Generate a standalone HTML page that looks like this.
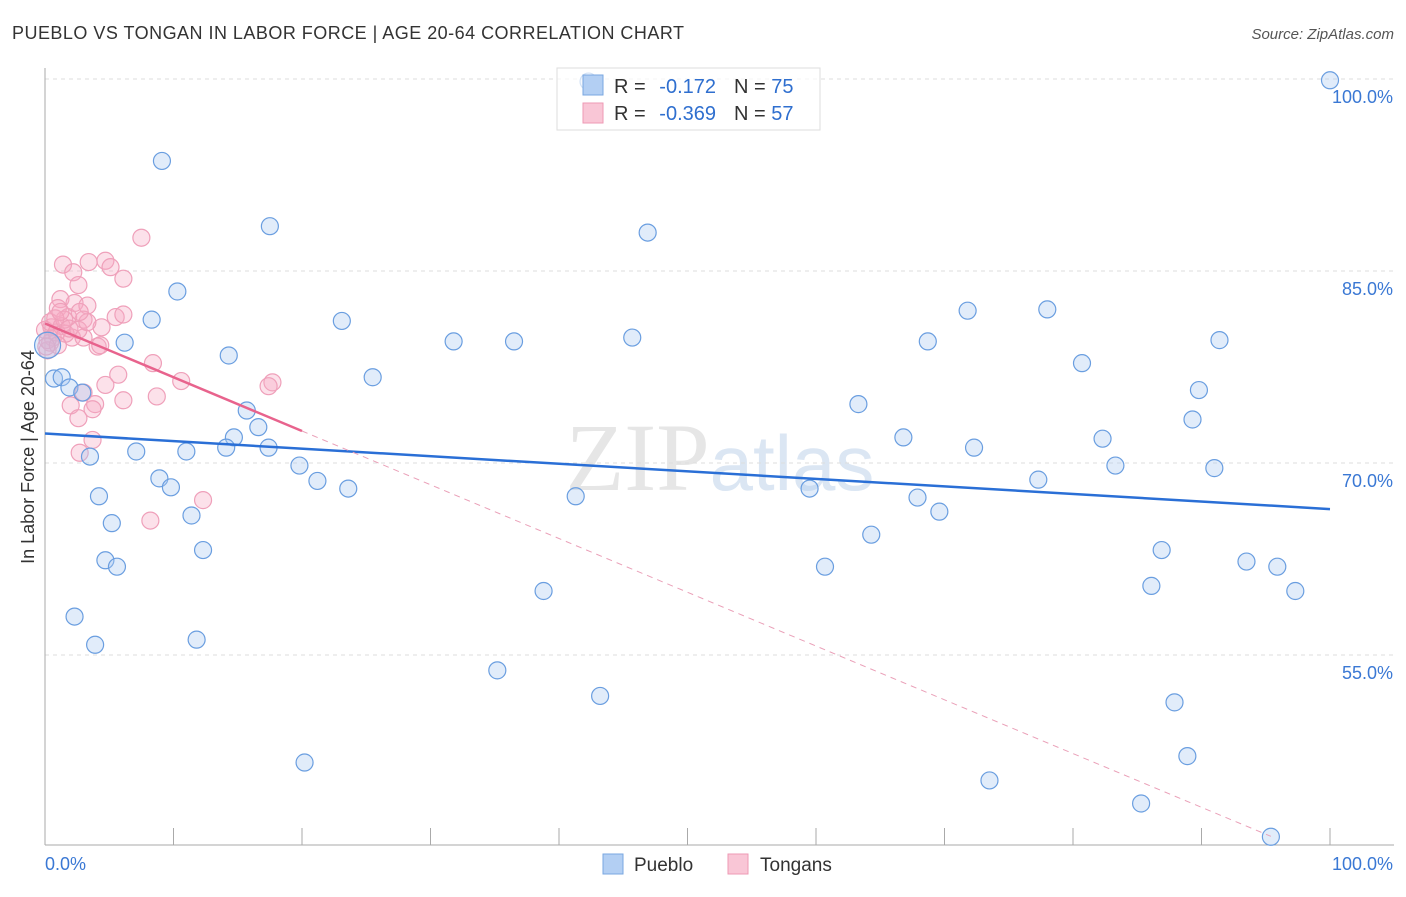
<!DOCTYPE html>
<html><head><meta charset="utf-8"><style>
body{margin:0;background:#fff;font-family:"Liberation Sans",sans-serif}
</style></head><body>
<svg id="c" width="1406" height="892" xmlns="http://www.w3.org/2000/svg" style="font-family:'Liberation Sans',sans-serif">
<text x="12" y="39" font-size="18" fill="#333" textLength="672" lengthAdjust="spacing">PUEBLO VS TONGAN IN LABOR FORCE | AGE 20-64 CORRELATION CHART</text>
<text x="1394" y="39" font-size="15" fill="#555" text-anchor="end" font-style="italic">Source: ZipAtlas.com</text>
<text x="720" y="490" font-size="96" fill="#e6e6e6" text-anchor="middle" font-family="Liberation Serif">ZIP<tspan fill="#dbe6f3" font-family="Liberation Sans" font-size="78">atlas</tspan></text>
<text transform="translate(34,457) rotate(-90)" font-size="18" fill="#333" text-anchor="middle">In Labor Force | Age 20-64</text>
<g id="grid"></g><g id="marks"></g>
<g>
<rect x="557" y="68" width="263" height="62" fill="#fff" fill-opacity="0.7" stroke="#ddd"/>
<rect x="583" y="75" width="20" height="20" fill="#b3cff3" stroke="#7aa7e0"/>
<rect x="583" y="103" width="20" height="20" fill="#f9c6d6" stroke="#ee99b4"/>
<text x="614" y="93" font-size="20" fill="#333">R =</text>
<text x="716" y="93" font-size="20" fill="#2f6fcf" text-anchor="end">-0.172</text>
<text x="734" y="93" font-size="20" fill="#333">N = <tspan fill="#2f6fcf">75</tspan></text>
<text x="614" y="120" font-size="20" fill="#333">R =</text>
<text x="716" y="120" font-size="20" fill="#2f6fcf" text-anchor="end">-0.369</text>
<text x="734" y="120" font-size="20" fill="#333">N = <tspan fill="#2f6fcf">57</tspan></text>
</g>
<g>
<rect x="603" y="854" width="20" height="20" fill="#b3cff3" stroke="#7aa7e0"/>
<text x="634" y="871" font-size="19" fill="#333">Pueblo</text>
<rect x="728" y="854" width="20" height="20" fill="#f9c6d6" stroke="#ee99b4"/>
<text x="760" y="871" font-size="19" fill="#333">Tongans</text>
</g>
</svg>
<script>
const yTicks=[100,85,70,55];
const yTickLabels=["100.0%","85.0%","70.0%","55.0%"];
const xTickLabels=["0.0%","100.0%"];
const puebloX=[42.3,100,9.1,17.5,46.9,10.3,8.3,23.1,71.8,78.0,6.2,31.8,36.5,45.7,68.7,91.4,14.3,0.7,1.3,25.5,80.7,1.9,2.9,89.8,63.3,15.7,89.3,16.6,14.7,66.8,82.3,7.1,11.0,14.1,17.4,72.3,3.5,19.8,83.3,91.0,8.9,9.8,21.2,77.3,23.6,59.5,4.2,41.3,67.9,11.4,69.6,5.2,64.3,12.3,86.9,4.7,5.6,60.7,93.5,95.9,86.1,97.3,38.8,2.3,3.9,11.8,35.2,43.2,87.9,88.9,20.2,73.5,85.3,95.4,0.2];
const puebloY=[99.8,99.9,93.6,88.5,88.0,83.4,81.2,81.1,81.9,82.0,79.4,79.5,79.5,79.8,79.5,79.6,78.4,76.6,76.7,76.7,77.8,75.9,75.5,75.7,74.6,74.1,73.4,72.8,72.0,72.0,71.9,70.9,70.9,71.2,71.2,71.2,70.5,69.8,69.8,69.6,68.8,68.1,68.6,68.7,68.0,68.0,67.4,67.4,67.3,65.9,66.2,65.3,64.4,63.2,63.2,62.4,61.9,61.9,62.3,61.9,60.4,60.0,60.0,58.0,55.8,56.2,53.8,51.8,51.3,47.1,46.6,45.2,43.4,40.8,79.2];
const tonganX=[7.5,1.4,3.4,4.7,5.1,2.2,6.1,2.6,1.2,2.3,3.3,1.0,5.5,6.1,4.4,3.0,1.8,0.5,0.6,2.1,3.0,4.1,4.3,0.4,0.2,8.4,10.6,5.7,4.7,17.7,17.4,3.0,2.0,3.9,3.7,6.1,8.7,2.6,3.7,2.7,12.3,8.2,0,0.4,0.9,1.3,1.6,0.2,1.0,1.5,1.9,2.6,3.3,0.8,1.2,0.1,2.7];
const tonganY=[87.6,85.5,85.7,85.8,85.3,84.9,84.4,83.9,82.8,82.5,82.3,82.1,81.4,81.6,80.6,81.2,81.4,80.6,79.8,79.8,79.8,79.1,79.2,79.4,78.8,77.8,76.4,76.9,76.1,76.3,76.0,75.5,74.5,74.6,74.2,74.9,75.2,73.5,71.8,70.8,67.1,65.5,80.4,81.0,80.2,80.7,80.1,79.6,79.2,81.2,80.5,80.4,81.0,81.3,81.8,79.1,81.8];
const puebloTrend=[72.3,66.4];
const tonganTrend=[80.9,-0.42];
const X=v=>45+v*12.85, Y=v=>79+(100-v)*12.8;
const NS="http://www.w3.org/2000/svg";
function mk(t,a,p){const e=document.createElementNS(NS,t);for(const k in a)e.setAttribute(k,a[k]);p.appendChild(e);return e;}
const g=document.getElementById('grid'),m=document.getElementById('marks');
yTicks.forEach((t,i)=>{const l=mk('line',{x1:45,x2:1394,y1:Y(t),y2:Y(t),stroke:'#ddd','stroke-dasharray':'4,4'},g);


const tx=mk('text',{x:1393,y:Y(t)+24,'font-size':18,fill:'#3a78d4','text-anchor':'end'},g);tx.textContent=yTickLabels[i];

});
const ax=mk('line',{x1:45,x2:45,y1:68,y2:845,stroke:'#aaa'},g);


const bx=mk('line',{x1:45,x2:1394,y1:845,y2:845,stroke:'#aaa'},g);


for(let i=1;i<=10;i++){const t=mk('line',{x1:X(i*10),x2:X(i*10),y1:828,y2:845,stroke:'#aaa'},g);

}
[[0,45,'start'],[1,1393,'end']].forEach(([i,x,a])=>{const t=mk('text',{x:x,y:870,'font-size':18,fill:'#3a78d4','text-anchor':a},g);t.textContent=xTickLabels[i];

});
tonganX.forEach((x,i)=>{const c=mk('circle',{cx:X(x),cy:Y(tonganY[i]),r:8.5,fill:'rgba(246,170,196,0.35)',stroke:'#efa0ba','stroke-width':1.2},m);

});
puebloX.forEach((x,i)=>{const big=i===puebloX.length-1;const c=mk('circle',{cx:X(x),cy:Y(puebloY[i]),r:big?13:8.5,fill:'rgba(170,200,240,0.35)',stroke:'#6a9ee0','stroke-width':1.2},m);

});
const bl=mk('line',{x1:X(0),y1:Y(puebloTrend[0]),x2:X(100),y2:Y(puebloTrend[1]),stroke:'#2a6fd6','stroke-width':2.5},m);


const pl=mk('line',{x1:X(0),y1:Y(tonganTrend[0]),x2:X(20),y2:Y(tonganTrend[0]+tonganTrend[1]*20),stroke:'#e8638d','stroke-width':2.5},m);


const pd=mk('line',{x1:X(20),y1:Y(tonganTrend[0]+tonganTrend[1]*20),x2:X(95.4),y2:Y(tonganTrend[0]+tonganTrend[1]*95.4),stroke:'#eaa0b8','stroke-width':1,'stroke-dasharray':'6,5'},m);


</script>
</body></html>
